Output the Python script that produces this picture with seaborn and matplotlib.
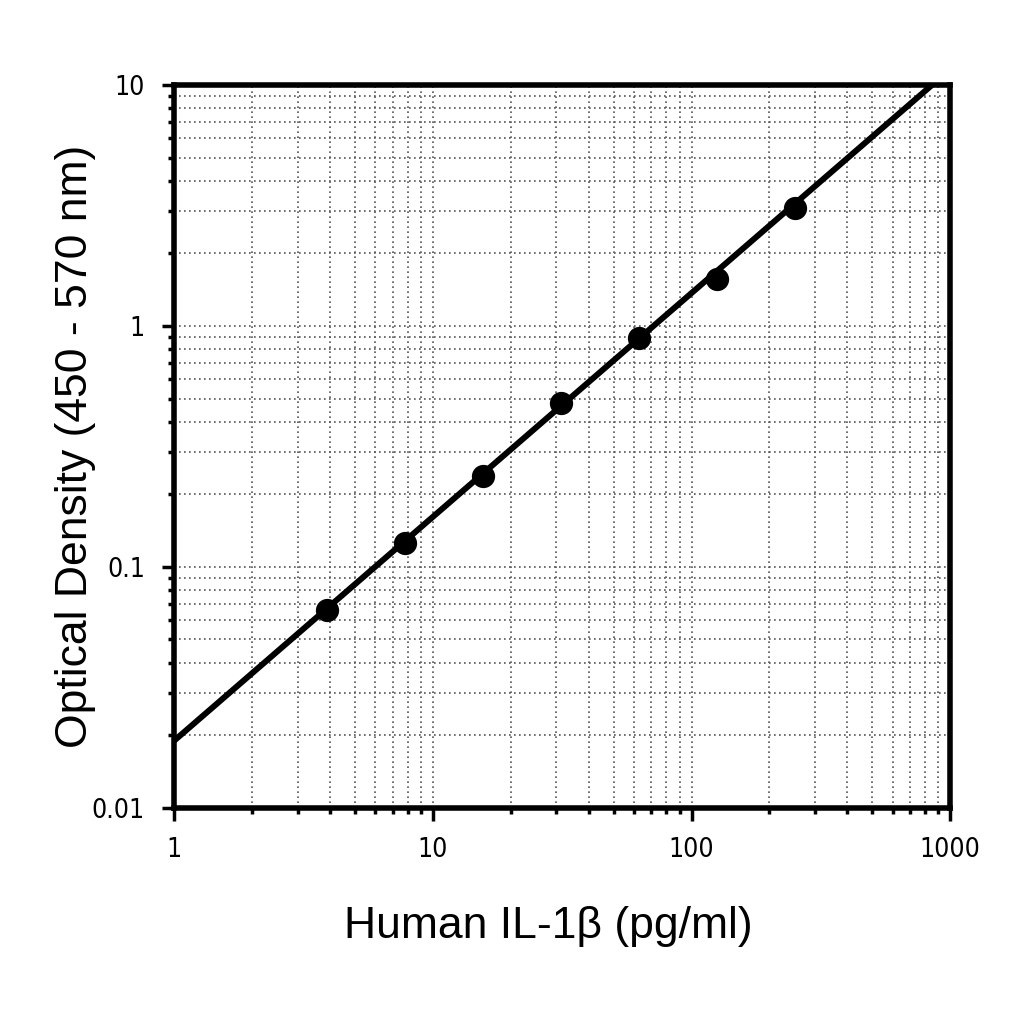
import numpy as np
import pandas as pd
import matplotlib
matplotlib.use("Agg")
import matplotlib.pyplot as plt
import seaborn as sns
from matplotlib.ticker import LogLocator, NullFormatter, FuncFormatter

# standard curve points
conc = [3.9, 7.8, 15.6, 31.25, 62.5, 125, 250]
od = [0.066, 0.126, 0.238, 0.48, 0.89, 1.57, 3.08]
od_err = [0.004, 0.006, 0.015, 0.03, 0.05, 0.08, 0.16]

# fitted line
fit_x = [1, 850]
fit_y = [0.019, 10]

df = pd.DataFrame({'conc': conc, 'od': od})
fit = pd.DataFrame({'conc': fit_x, 'od': fit_y})

sns.set_style('white')
plt.rcParams['font.family'] = ['Liberation Sans', 'DejaVu Sans']
plt.rcParams['text.color'] = 'black'
plt.rcParams['axes.labelcolor'] = 'black'
plt.rcParams['xtick.color'] = 'black'
plt.rcParams['ytick.color'] = 'black'

fig = plt.figure(figsize=(10.24, 10.24), dpi=100)
ax = fig.add_axes([0.170, 0.211, 0.758, 0.706])

ax.set_xscale('log')
ax.set_yscale('log')
ax.set_xlim(1, 1000)
ax.set_ylim(0.01, 10)

ax.grid(True, which='both', color='#555555', linestyle=(0, (1, 2)), linewidth=1.2)
ax.set_axisbelow(True)

sns.lineplot(data=fit, x='conc', y='od', color='black', linewidth=4.3, ax=ax)
ax.errorbar(conc, od, yerr=od_err, fmt='none', ecolor='black', elinewidth=2.5, capsize=0)
sns.scatterplot(data=df, x='conc', y='od', color='black', s=240, edgecolor='black', ax=ax, zorder=5)

for s in ax.spines.values():
    s.set_linewidth(4)
    s.set_color('black')

ax.xaxis.set_major_locator(LogLocator(base=10, numticks=10))
ax.yaxis.set_major_locator(LogLocator(base=10, numticks=10))
ax.xaxis.set_minor_locator(LogLocator(base=10, subs=np.arange(2, 10), numticks=20))
ax.yaxis.set_minor_locator(LogLocator(base=10, subs=np.arange(2, 10), numticks=20))
ax.xaxis.set_minor_formatter(NullFormatter())
ax.yaxis.set_minor_formatter(NullFormatter())
fmt = FuncFormatter(lambda v, p: '{:g}'.format(v))
ax.xaxis.set_major_formatter(fmt)
ax.yaxis.set_major_formatter(fmt)

ax.tick_params(which='major', direction='out', length=9, width=2.5, color='black',
               labelsize=19, pad=12, bottom=True, left=True)
ax.tick_params(which='minor', direction='out', length=4, width=2.5, color='black',
               bottom=True, left=True)
for lab in ax.get_xticklabels() + ax.get_yticklabels():
    lab.set_family(['Liberation Sans Narrow', 'DejaVu Sans'])
    lab.set_stretch('condensed')

ax.set_xlabel('Human IL-1\u03b2 (pg/ml)', fontsize=32)
ax.set_ylabel('Optical Density (450 - 570 nm)', fontsize=32)
ax.xaxis.set_label_coords(0.482, -0.135)
ax.yaxis.set_label_coords(-0.101, 0.5)

fig.savefig('out.png', dpi=100)
